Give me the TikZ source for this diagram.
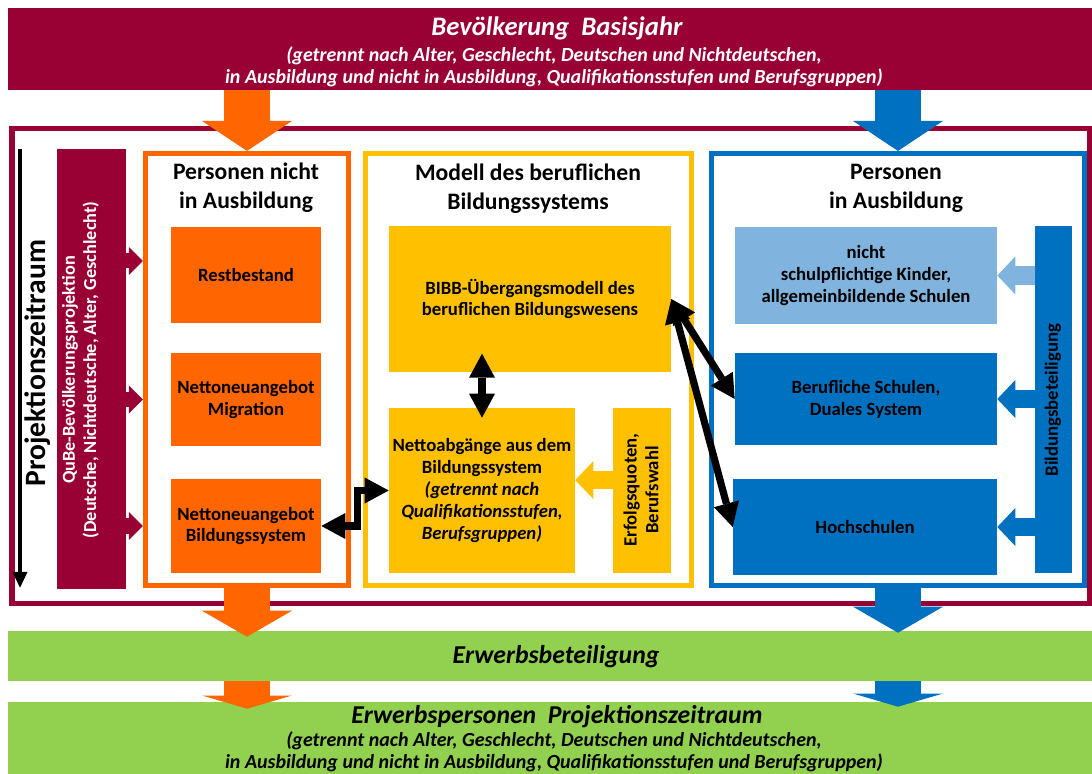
\documentclass[tikz,border=0pt]{standalone}
\usepackage{fontspec}
\setmainfont{Carlito}
\usetikzlibrary{arrows.meta}
\definecolor{QBRed}{HTML}{990033}
\definecolor{QBOrange}{HTML}{FF6600}
\definecolor{QBYellow}{HTML}{FFC000}
\definecolor{QBBlue}{HTML}{0070C0}
\definecolor{QBLightBlue}{HTML}{80B4DE}
\definecolor{QBGreen}{HTML}{92D050}

\begin{document}
\begin{tikzpicture}[x=0.025cm,y=-0.025cm,
  qbox/.style={inner sep=0pt,align=center,font=\bfseries\fontsize{13.3}{15.6}\selectfont},
  panel/.style={draw,line width=0.125cm,inner sep=0pt,minimum height=10.8cm},
  paneltitle/.style={align=center,font=\bfseries\fontsize{16.8}{20.6}\selectfont},
  bandtext/.style={inner sep=0pt,align=center,font=\bfseries\itshape\fontsize{14.2}{15.6}\selectfont},
  bandtitle/.style={font=\bfseries\itshape\fontsize{18.3}{22}\selectfont},
  fatarrow/.style={line width=1.15cm,-{Triangle[width=2.25cm,length=0.75cm,line width=0pt]}},
  fatarrowmid/.style={line width=1.15cm,-{Triangle[width=2.25cm,length=0.65cm,line width=0pt]}},
  fatarrowflat/.style={line width=1.15cm,-{Triangle[width=2.25cm,length=0.33cm,line width=0pt]}},
  sidearrow/.style={line width=0.45cm,-{Triangle[width=0.95cm,length=0.45cm,line width=0pt]}},
  qubearrow/.style={draw=QBRed,line width=0.375cm,-{Triangle[width=0.7cm,length=0.35cm,line width=0pt]}},
  flowarrow/.style={line width=0.18cm,{Triangle[width=0.65cm,length=0.6cm,line width=0pt]}-{Triangle[width=0.65cm,length=0.6cm,line width=0pt]}}
]
\path[use as bounding box] (0,0) rectangle (1092,774);

% Basisjahr
\node[fill=QBRed,minimum width=27.1cm,minimum height=2.05cm,inner sep=0pt] (basis) at (550.5,49) {};
\node[text=white,font=\bfseries\itshape\fontsize{19}{22}\selectfont] (basistitel) at (557,28) {Bevölkerung~ Basisjahr};
\node[bandtext,text=white] (basisinfo) at (554,67) {(getrennt nach Alter, Geschlecht, Deutschen und Nichtdeutschen,\\in Ausbildung und nicht in Ausbildung, Qualifikationsstufen und Berufsgruppen)};

\draw[QBRed,line width=0.125cm] (12,129) rectangle (1089,603);

% Projektionszeitraum
\coordinate (zeitoben) at (20,149);
\coordinate (zeitunten) at (20,588);
\draw[line width=0.08cm,-{Triangle[width=0.35cm,length=0.4cm]}] (zeitoben) -- (zeitunten);
\node[rotate=90,font=\bfseries\fontsize{21}{25}\selectfont] (zeit) at (38,363) {Projektionszeitraum};
\node[fill=QBRed,minimum width=1.725cm,minimum height=11cm,inner sep=0pt] (qube) at (91.5,369) {};
\node[qbox,rotate=90,text=white,font=\bfseries\fontsize{13}{15}\selectfont] (qubetext) at (80.5,370) {QuBe-Bevölkerungsprojektion\\(Deutsche, Nichtdeutsche, Alter, Geschlecht)};

% Personen nicht in Ausbildung
\node[panel,draw=QBOrange,minimum width=5.075cm] (nichtpanel) at (247,369.5) {};
\node[paneltitle] (nichttitel) at (246,188) {Personen nicht\\in Ausbildung};
\node[qbox,fill=QBOrange,minimum width=3.75cm,minimum height=2.4cm] (rest) at (246,275) {Restbestand};
\node[qbox,fill=QBOrange,minimum width=3.75cm,minimum height=2.325cm] (migration) at (246,399.5) {Nettoneuangebot\\Migration};
\node[qbox,fill=QBOrange,minimum width=3.75cm,minimum height=2.35cm] (neuangebot) at (246,526) {Nettoneuangebot\\Bildungssystem};

% Modell des beruflichen Bildungssystems
\node[panel,draw=QBYellow,minimum width=8.15cm] (modellpanel) at (528.5,369.5) {};
\node[paneltitle] (modelltitel) at (528,189) {Modell des beruflichen\\Bildungssystems};
\node[qbox,fill=QBYellow,minimum width=7.05cm,minimum height=3.65cm] (bibb) at (530,299) {BIBB-Übergangsmodell des\\beruflichen Bildungswesens};
\node[qbox,fill=QBYellow,minimum width=4.65cm,minimum height=4.125cm] (abgang) at (482,490.5) {Nettoabgänge aus dem\\Bildungssystem\\\textit{(getrennt nach}\\\textit{Qualifikationsstufen,}\\\textit{Berufsgruppen)}};
\node[fill=QBYellow,minimum width=1.45cm,minimum height=4.125cm,inner sep=0pt] (erfolg) at (642,490.5) {};
\node[qbox,rotate=90] (erfolgtext) at (641,490) {Erfolgsquoten,\\Berufswahl};

% Personen in Ausbildung
\node[panel,draw=QBBlue,minimum width=9.325cm] (auspanel) at (898,369.5) {};
\node[paneltitle] (austitel) at (896,188) {Personen\\in Ausbildung};
\node[qbox,fill=QBLightBlue,minimum width=6.55cm,minimum height=2.425cm] (kinder) at (866,275.5) {nicht\\schulpflichtige Kinder,\\allgemeinbildende Schulen};
\node[qbox,fill=QBBlue,minimum width=6.55cm,minimum height=2.3cm] (beruf) at (866,399) {Berufliche Schulen,\\Duales System};
\node[qbox,fill=QBBlue,minimum width=6.6cm,minimum height=2.4cm] (hoch) at (865,527) {Hochschulen};
\node[fill=QBBlue,minimum width=0.925cm,minimum height=8.675cm,inner sep=0pt] (beteiligung) at (1053.5,399.5) {};
\node[qbox,rotate=90] (beteiligungtext) at (1053,400) {Bildungsbeteiligung};

% Erwerbsbeteiligung, Erwerbspersonen
\node[fill=QBGreen,minimum width=27.1cm,minimum height=1.25cm,inner sep=0pt] (erwerb) at (550,656) {};
\node[bandtitle] (erwerbtext) at (556,657) {Erwerbsbeteiligung};
\node[fill=QBGreen,minimum width=27.1cm,minimum height=1.9cm,inner sep=0pt] (erwerbsp) at (550,740) {};
\node[bandtitle] (erwerbsptitel) at (557,717) {Erwerbspersonen~ Projektionszeitraum};
\node[bandtext] (erwerbspinfo) at (554,752) {(getrennt nach Alter, Geschlecht, Deutschen und Nichtdeutschen,\\in Ausbildung und nicht in Ausbildung, Qualifikationsstufen und Berufsgruppen)};

% Block arrows
\draw[fatarrow,draw=QBOrange] (basis.south -| nichtpanel.north) -- (nichtpanel.north);
\draw[fatarrow,draw=QBBlue] (basis.south -| auspanel.north) -- (auspanel.north);
\draw[fatarrowmid,draw=QBOrange] (nichtpanel.south) -- ([yshift=-0.15cm]erwerb.north -| nichtpanel.south);
\draw[fatarrowmid,draw=QBBlue] (auspanel.south) -- ([yshift=-0.05cm]erwerb.north -| auspanel.south);
\draw[fatarrowflat,draw=QBOrange] (erwerb.south -| nichtpanel.south) -- ([yshift=-0.175cm]erwerbsp.north -| nichtpanel.south);
\draw[fatarrowflat,draw=QBBlue] (erwerb.south -| auspanel.south) -- ([yshift=-0.125cm]erwerbsp.north -| auspanel.south);

\draw[qubearrow] ([yshift=0.35cm]rest.west -| qube.east) -- ([yshift=0.35cm]rest.west -| nichtpanel.west);
\draw[qubearrow] (migration.west -| qube.east) -- (migration.west -| nichtpanel.west);
\draw[qubearrow] (neuangebot.west -| qube.east) -- (neuangebot.west -| nichtpanel.west);

\draw[sidearrow,draw=QBLightBlue] (kinder.east -| beteiligung.west) -- (kinder.east);
\draw[sidearrow,draw=QBBlue] (beruf.east -| beteiligung.west) -- (beruf.east);
\draw[sidearrow,draw=QBBlue] (hoch.east -| beteiligung.west) -- (hoch.east);
\draw[sidearrow,draw=QBYellow] ([yshift=0.26cm]erfolg.west) -- ([yshift=0.26cm]abgang.east);

% Flows
\draw[flowarrow] ([yshift=1.35cm]abgang.north) -- ([yshift=-0.25cm]abgang.north);
\draw[flowarrow] (neuangebot.east) -- ++(36,0) |- (abgang.west);
\draw[flowarrow] (bibb.east) -- (beruf.west);
\draw[flowarrow] (bibb.east) -- (hoch.west);
\end{tikzpicture}
\end{document}
